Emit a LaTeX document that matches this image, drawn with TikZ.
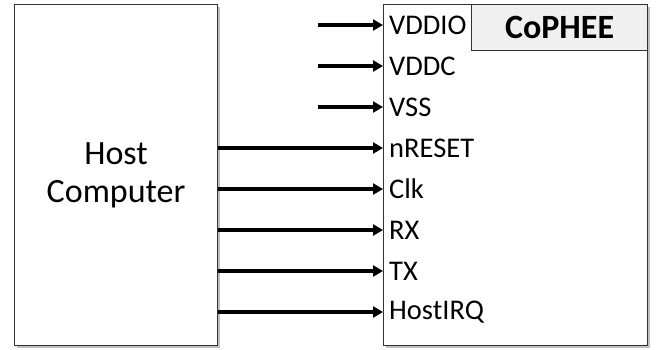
\documentclass[tikz,border=0pt]{standalone}
\usepackage{fontspec}
\setmainfont{Carlito}
\usetikzlibrary{arrows.meta,shadows}
\tikzset{
  blockbox/.style={draw=black!80,line width=1.2pt,fill=white,drop shadow={shadow xshift=2pt,shadow yshift=-2pt,opacity=0.5,fill=black!50}},
  sig/.style={line width=3.2pt,-{Triangle[length=10pt,width=11pt]}},
  pinlabel/.style={anchor=west,inner sep=0pt,font=\fontsize{28.5}{30}\selectfont},
}
\begin{document}
\begin{tikzpicture}[x=1pt,y=-1pt]
\useasboundingbox (0,0) rectangle (656,349);
\node[blockbox,minimum width=203pt,minimum height=341pt,anchor=north west,inner sep=0pt,
  font=\fontsize{34}{38}\selectfont,align=center] (host) at (14,4) {Host\\Computer};
\node[blockbox,minimum width=264pt,minimum height=341pt,anchor=north west,inner sep=0pt] (chip) at (383,4) {};
\node[draw=black!80,line width=1.2pt,fill=black!6,minimum width=176pt,minimum height=46pt,anchor=north east,inner sep=0pt,
  font=\bfseries\fontsize{34}{38}\selectfont] (title) at (chip.north east) {CoPHEE};
\foreach \i/\name/\lab in {0/vddio/VDDIO,1/vddc/VDDC,2/vss/VSS}{
  \coordinate (s\name) at (318,25+41*\i);
  \coordinate (e\name) at (383,25+41*\i);
  \node[pinlabel] (l\name) at (389,25+41*\i) {\lab};
  \draw[sig] (s\name) -- (e\name);
}
\foreach \i/\name/\lab in {3/nreset/nRESET,4/clk/Clk,5/rx/RX,6/tx/TX,7/irq/HostIRQ}{
  \coordinate (s\name) at (host.east |- 0,25+41*\i);
  \coordinate (e\name) at (383,25+41*\i);
  \node[pinlabel] (l\name) at (389,25+41*\i) {\lab};
  \draw[sig] (s\name) -- (e\name);
}
\end{tikzpicture}
\end{document}
